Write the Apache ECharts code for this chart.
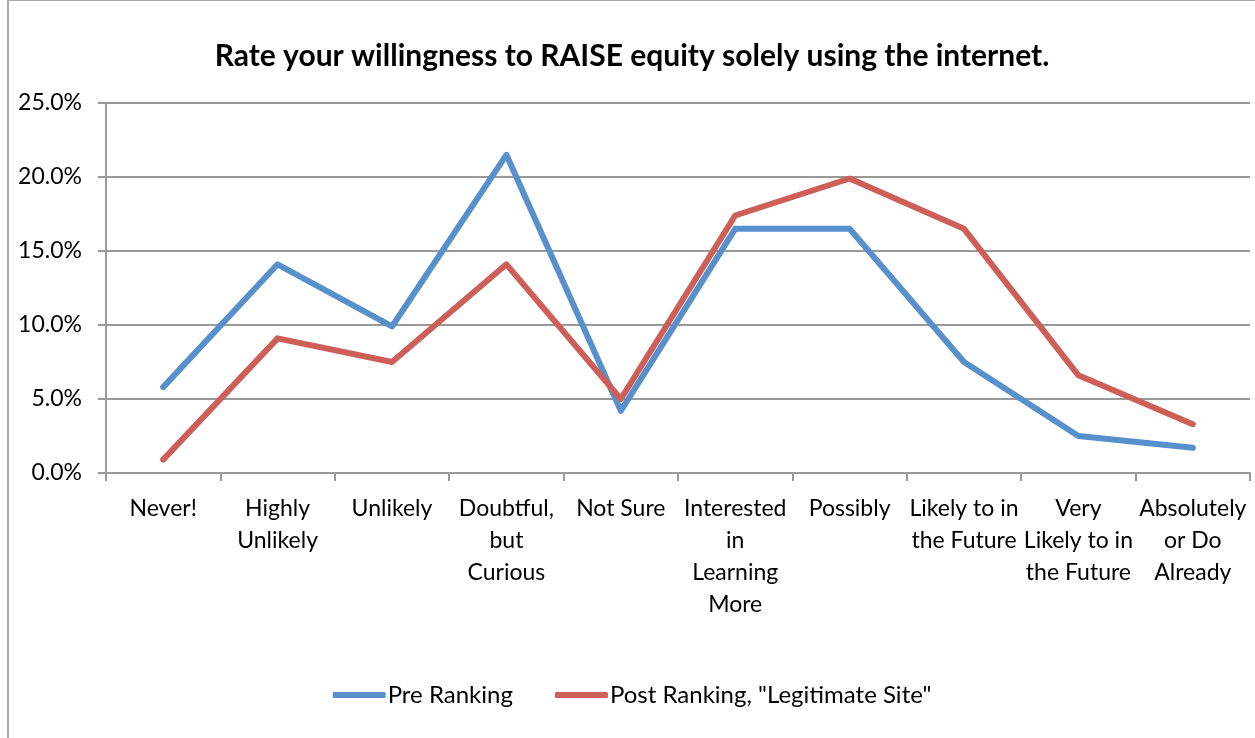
<!DOCTYPE html>
<html>
<head>
<meta charset="utf-8">
<script src="https://cdn.jsdelivr.net/npm/echarts@6/dist/echarts.min.js"></script>
<style>
  html, body { margin: 0; padding: 0; background: #fff; overflow: hidden; }
  #chart { width: 1248px; height: 738px; box-sizing: border-box; border-left: 2px solid #aaa; border-top: 1px solid #aaa; margin-left: 7px; }
</style>
</head>
<body>
<div id="chart"></div>
<script>
// 分类 (wrapped the way the picture shows them)
const categories = [
  'Never!', 'Highly\nUnlikely', 'Unlikely', 'Doubtful,\nbut\nCurious', 'Not Sure',
  'Interested\nin\nLearning\nMore', 'Possibly', 'Likely to in\nthe Future',
  'Very\nLikely to in\nthe Future', 'Absolutely\nor Do\nAlready'
]
const preRanking = [5.8, 14.1, 9.9, 21.5, 4.2, 16.5, 16.5, 7.5, 2.5, 1.7]
const postRanking = [0.9, 9.1, 7.5, 14.1, 5.0, 17.4, 19.9, 16.5, 6.6, 3.3]
const seriesNames = ['Pre Ranking', 'Post Ranking, "Legitimate Site"']

const font = 'Lato, "Open Sans", sans-serif'
let myChart = echarts.init(document.getElementById('chart'))
let option = {
  animation: false,
  textStyle: { fontFamily: font },
  title: {
    text: 'Rate your willingness to RAISE equity solely using the internet.',
    left: 'center',
    top: 35,
    textStyle: { fontSize: 30, fontWeight: 'bold', color: '#000', fontFamily: font }
  },
  legend: {
    bottom: 26,
    left: 'center',
    itemWidth: 53,
    itemHeight: 6,
    itemGap: 42,
    icon: 'roundRect',
    textStyle: { fontSize: 24, color: '#000', fontFamily: font, padding: [0, 0, 0, -3] },
    data: seriesNames
  },
  grid: { left: 97, right: 5, top: 102, bottom: 265 },
  xAxis: {
    type: 'category',
    data: categories,
    boundaryGap: true,
    axisLine: { lineStyle: { color: '#999', width: 2 } },
    axisTick: { show: true, length: 8, lineStyle: { color: '#999', width: 2 } },
    axisLabel: { fontSize: 23, color: '#000', lineHeight: 32, margin: 20, interval: 0, fontFamily: font }
  },
  yAxis: {
    type: 'value',
    min: 0,
    max: 25,
    interval: 5,
    axisLine: { show: true, lineStyle: { color: '#999', width: 2 } },
    axisTick: { show: true, length: 8, lineStyle: { color: '#999', width: 2 } },
    splitLine: { lineStyle: { color: '#999', width: 2 } },
    axisLabel: { fontSize: 23, color: '#000', margin: 24, formatter: v => v.toFixed(1) + '%', fontFamily: font }
  },
  series: [
    {
      name: seriesNames[0],
      type: 'line',
      data: preRanking,
      symbol: 'none',
      lineStyle: { width: 6, color: '#5890CB', cap: 'round', join: 'round' },
      itemStyle: { color: '#5890CB' }
    },
    {
      name: seriesNames[1],
      type: 'line',
      data: postRanking,
      symbol: 'none',
      lineStyle: { width: 6, color: '#CD5F58', cap: 'round', join: 'round' },
      itemStyle: { color: '#CD5F58' }
    }
  ]
}
myChart.setOption(option)
</script>
</body>
</html>
